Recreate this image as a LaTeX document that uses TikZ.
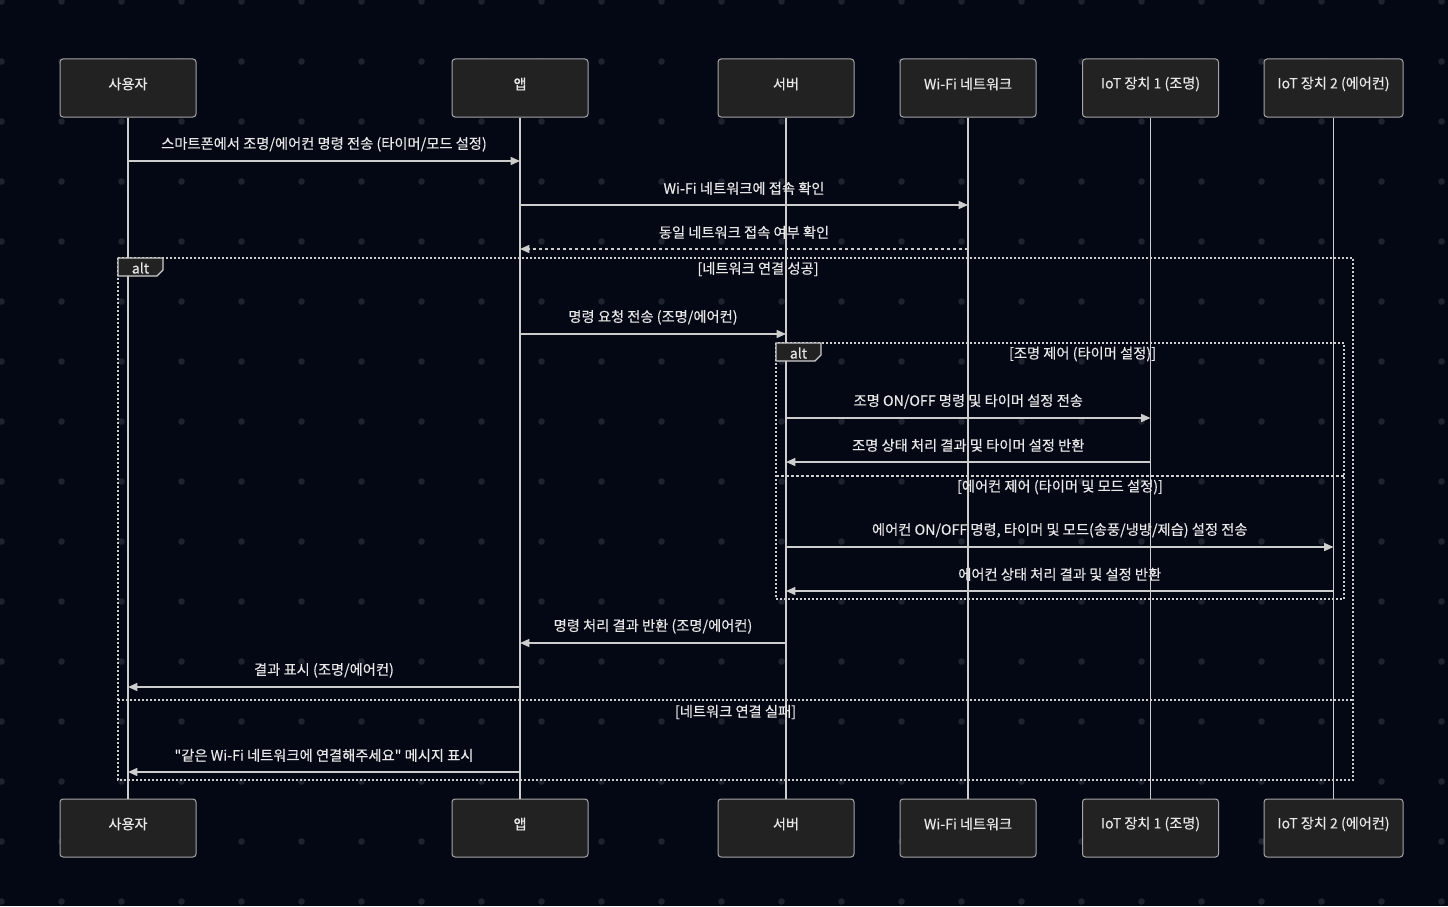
\documentclass[tikz,border=0pt]{standalone}
\usepackage{fontspec}
\setmainfont{Noto Sans CJK KR}[Ligatures=TeXOff]
\newfontfamily\medfont{Noto Sans CJK KR}[Ligatures=TeXOff,BoldFont={Noto Sans CJK KR},BoldFeatures={FakeBold=0.35}]
\usetikzlibrary{arrows.meta,calc}
\definecolor{bg}{RGB}{4,8,20}
\definecolor{dotc}{RGB}{30,34,46}
\definecolor{boxfill}{RGB}{34,34,34}
\definecolor{boxline}{RGB}{165,165,165}
\definecolor{linec}{RGB}{205,205,205}
\definecolor{txt}{RGB}{232,232,232}
\begin{document}
\begin{tikzpicture}[x=0.75pt,y=-0.75pt,
  actor/.style={draw=boxline, fill=boxfill, rounded corners=2.25pt, line width=0.75pt,
    minimum width=102pt, minimum height=43.5pt, text=txt, inner sep=0pt},
  atext/.style={text=txt, inner sep=0pt, font=\medfont\bfseries\fontsize{10.6}{12}\selectfont},
  life/.style={draw=linec, line width=0.9pt},
  msg/.style={draw=linec, line width=1.1pt, -{Triangle[length=7pt,width=6pt]}},
  ret/.style={msg, dash pattern=on 2.25pt off 2.25pt},
  lbl/.style={text=txt, font=\medfont\bfseries\fontsize{10.7}{12}\selectfont, inner sep=0pt},
  frame/.style={draw=linec, line width=1.2pt, dash pattern=on 1.5pt off 1.5pt},
  divider/.style={draw=linec, line width=1.2pt, dash pattern=on 2.25pt off 1.5pt},
  tab/.style={draw=linec, fill=boxfill, line width=0.9pt},
  tabtext/.style={text=txt, font=\medfont\bfseries\fontsize{10.6}{12}\selectfont, inner sep=0pt},
  flabel/.style={text=txt, font=\medfont\bfseries\fontsize{10.7}{12}\selectfont, inner sep=0pt}
]
\useasboundingbox (0,0) rectangle (1448,906);
\fill[bg] (0,0) rectangle (1448,906);
\foreach \i in {0,...,24}{
  \foreach \j in {0,...,15}{
    \fill[dotc] (1.5+60*\i,1.5+60*\j) circle (2.5pt);
  }
}
% participants top
\node[actor] (u)  at (128,88) {};
\node[actor] (a)  at (520,88) {};
\node[actor] (s)  at (786,88) {};
\node[actor] (w)  at (968,88) {};
\node[actor] (d1) at (1150.5,88) {};
\node[actor, minimum width=104.25pt] (d2) at (1333.5,88) {};
% participants bottom
\node[actor] (ub)  at (128,828) {};
\node[actor] (ab)  at (520,828) {};
\node[actor] (sb)  at (786,828) {};
\node[actor] (wb)  at (968,828) {};
\node[actor] (d1b) at (1150.5,828) {};
\node[actor, minimum width=104.25pt] (d2b) at (1333.5,828) {};
% participant names
\foreach \p/\t in {u/사용자, a/앱, s/서버, w/Wi-Fi 네트워크, d1/IoT 장치 1 (조명), d2/IoT 장치 2 (에어컨)}{
  \node[atext] (\p-t) at ([yshift=3pt]\p.center) {\t};
  \node[atext] (\p b-t) at ([yshift=3pt]\p b.center) {\t};
}
% lifelines
\foreach \p in {u,a,s,w,d1,d2}{
  \draw[life] (\p.south) -- (\p b.north);
}
% outer alt frame
\draw[frame] (118,258) rectangle (1353,780);
\draw[tab] (118,258) -- (163,258) -- (163,270) -- (157,276) -- (118,276) -- cycle;
\node[tabtext] (t1) at (140.5,268) {alt};
\node[flabel] (f1) at (758,269) {[네트워크 연결 성공]};
\draw[frame] (118,700) -- (1353,700);
\node[flabel] (f2) at (735.5,712) {[네트워크 연결 실패]};
% inner alt frame
\draw[frame] (776,343) rectangle (1344,599);
\draw[tab] (776,343) -- (821,343) -- (821,355) -- (815,361) -- (776,361) -- cycle;
\node[tabtext] (t2) at (798.5,353) {alt};
\node[flabel] (f3) at (1082.5,354) {[조명 제어 (타이머 설정)]};
\draw[divider] (776,476) -- (1344,476);
\node[flabel] (f4) at (1060,487) {[에어컨 제어 (타이머 및 모드 설정)]};
% messages
\draw[msg] (u.south |- 0,161) -- node[lbl, midway, yshift=12.5pt] {스마트폰에서 조명/에어컨 명령 전송 (타이머/모드 설정)} (a.south |- 0,161);
\draw[msg] (a.south |- 0,205) -- node[lbl, midway, yshift=12.5pt] {Wi-Fi 네트워크에 접속 확인} (w.south |- 0,205);
\draw[ret] (w.south |- 0,249) -- node[lbl, midway, yshift=12.5pt] {동일 네트워크 접속 여부 확인} (a.south |- 0,249);
\draw[msg] (a.south |- 0,334) -- node[lbl, midway, yshift=12.5pt] {명령 요청 전송 (조명/에어컨)} (s.south |- 0,334);
\draw[msg] (s.south |- 0,418) -- node[lbl, midway, yshift=12.5pt] {조명 ON/OFF 명령 및 타이머 설정 전송} (d1.south |- 0,418);
\draw[msg] (d1.south |- 0,462) -- node[lbl, midway, yshift=12.5pt] {조명 상태 처리 결과 및 타이머 설정 반환} (s.south |- 0,462);
\draw[msg] (s.south |- 0,547) -- node[lbl, midway, yshift=12.5pt] {에어컨 ON/OFF 명령, 타이머 및 모드(송풍/냉방/제습) 설정 전송} (d2.south |- 0,547);
\draw[msg] (d2.south |- 0,591) -- node[lbl, midway, yshift=12.5pt] {에어컨 상태 처리 결과 및 설정 반환} (s.south |- 0,591);
\draw[msg] (s.south |- 0,643) -- node[lbl, midway, yshift=12.5pt] {명령 처리 결과 반환 (조명/에어컨)} (a.south |- 0,643);
\draw[msg] (a.south |- 0,687) -- node[lbl, midway, yshift=12.5pt] {결과 표시 (조명/에어컨)} (u.south |- 0,687);
\draw[msg] (a.south |- 0,772) -- node[lbl, midway, yshift=12.5pt] {"같은 Wi-Fi 네트워크에 연결해주세요" 메시지 표시} (u.south |- 0,772);
\end{tikzpicture}
\end{document}
